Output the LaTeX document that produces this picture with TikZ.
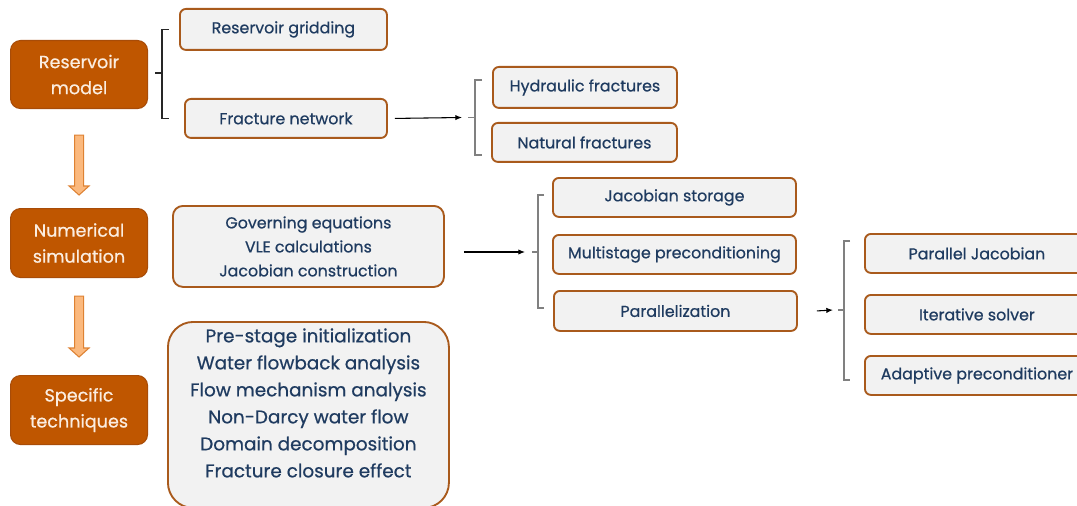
\documentclass[tikz,border=0pt]{standalone}
\usepackage{fontspec}
\setmainfont{Poppins}
\newfontfamily\medfont{Poppins}[FakeBold=0.6]
\usetikzlibrary{calc,arrows.meta}

\definecolor{rust}{HTML}{BF5600}
\definecolor{rustedge}{HTML}{A84C08}
\definecolor{cream}{HTML}{FBEDE0}
\definecolor{boxfill}{HTML}{F2F2F2}
\definecolor{boxedge}{HTML}{A95A1C}
\definecolor{navy}{HTML}{1F3B60}
\definecolor{peach}{HTML}{FBB97E}
\definecolor{peachedge}{HTML}{DE8233}
\definecolor{brackgray}{HTML}{808080}

% hollow downward block arrow: #1 top of the shaft, #2 tip
\newcommand\fatdown[2]{%
  \draw[fatarrow] ($(#1)+(-4.5,0)$) -- ($(#1)+(4.5,0)$) -- ($(#2)+(4.5,-9)$)
    -- ($(#2)+(10,-9)$) -- (#2) -- ($(#2)+(-10,-9)$) -- ($(#2)+(-4.5,-9)$) -- cycle;}

\begin{document}
\begin{tikzpicture}[x=0.75pt,y=-0.75pt,
  mainbox/.style={draw=rustedge, fill=rust, text=cream, line width=0.8pt,
    rounded corners=7.5pt, anchor=north west, inner sep=0pt, align=center,
    font=\medfont\fontsize{13.2}{19.5}\selectfont},
  subbox/.style={draw=boxedge, fill=boxfill, text=navy, line width=1.4pt,
    rounded corners=4.5pt, anchor=north west, inner sep=0pt, align=center,
    font=\medfont\fontsize{11.9}{18}\selectfont},
  bigtext/.style={text=navy, align=center, inner sep=0pt,
    font=\medfont\fontsize{13.8}{20.25}\selectfont},
  brk/.style={draw=brackgray, line width=0.8pt},
  brkdark/.style={draw=black!85, line width=0.8pt},
  conn/.style={draw=black, line width=0.8pt, -{Latex[length=5pt,width=4pt]}},
  fatarrow/.style={fill=peach, draw=peachedge, line width=0.8pt, line join=miter},
]
\clip (0,0) rectangle (1077,506);
\fill[white] (0,0) rectangle (1077,506);

% left column
\node[mainbox, minimum width={137*0.75pt}, minimum height={68*0.75pt}] (rm) at (10,40) {Reservoir\\model};
\node[mainbox, minimum width={137*0.75pt}, minimum height={69*0.75pt}] (ns) at (10,208) {Numerical\\simulation};
\node[mainbox, minimum width={137*0.75pt}, minimum height={69*0.75pt}] (sp) at (10,375) {Specific\\techniques};

\coordinate (d1s) at ($(rm.south)+(0,26)$);
\coordinate (d1e) at ($(ns.north)+(0,-13)$);
\coordinate (d2s) at ($(ns.south)+(0,18)$);
\coordinate (d2e) at ($(sp.north)+(0,-18)$);
\fatdown{d1s}{d1e}
\fatdown{d2s}{d2e}

% reservoir model branch
\node[subbox, minimum width={207*0.75pt}, minimum height={41*0.75pt}] (rg) at (179,8) {Reservoir gridding};
\node[subbox, minimum width={202*0.75pt}, minimum height={39*0.75pt}] (fn) at (184,98) {Fracture network};
\coordinate (k1) at (162,73);
\draw[brkdark] ($(k1 |- rg.west)+(7,0)$) -- (k1 |- rg.west) -- (k1 |- fn.west) -- ($(k1 |- fn.west)+(7,0)$);
\draw[brkdark] (k1) -- ++(-7,0);

\node[subbox, minimum width={184*0.75pt}, minimum height={41*0.75pt}] (hf) at (492,66) {Hydraulic fractures};
\node[subbox, minimum width={185*0.75pt}, minimum height={39*0.75pt}] (nf) at (491,122) {Natural fractures};
\coordinate (k2) at (475,117.5);
\draw[brk] (482,80) -- (475,80) -- (475,155) -- (482,155);
\draw[brk] (k2) -- ++(-7,0);
\draw[conn] ($(fn.east)+(7,0)$) -- ($(k2)+(-13,0)$);

% numerical simulation branch
\node[subbox, rounded corners=7.5pt, minimum width={271*0.75pt}, minimum height={81*0.75pt}] (ge) at (172,205)
  {Governing equations\\VLE calculations\\Jacobian construction};
\node[subbox, minimum width={243*0.75pt}, minimum height={39*0.75pt}] (js) at (552,177) {Jacobian storage};
\node[subbox, minimum width={243*0.75pt}, minimum height={39*0.75pt}] (mp) at (552,234) {Multistage preconditioning};
\node[subbox, minimum width={243*0.75pt}, minimum height={40*0.75pt}] (pa) at (553,290) {Parallelization};
\coordinate (k3) at (538,252);
\draw[brk] (544,195) -- (538,195) -- (538,308) -- (544,308);
\draw[brk] (k3) -- ++(-6,0);
\draw[conn] ($(ge.east |- k3)+(19,0)$) -- ($(k3)+(-13,0)$);

\node[subbox, minimum width={224*0.75pt}, minimum height={39*0.75pt}] (pj) at (864,233) {Parallel Jacobian};
\node[subbox, minimum width={224*0.75pt}, minimum height={39*0.75pt}] (is) at (864,294) {Iterative solver};
\node[subbox, minimum width={224*0.75pt}, minimum height={39*0.75pt}] (ap) at (864,355) {Adaptive preconditioner};
\coordinate (k4) at (844,310);
\draw[brk] (850,241) -- (844,241) -- (844,380) -- (850,380);
\draw[brk] (k4) -- ++(-6,0);
\draw[conn] ($(pa.east)+(19,0)$) -- ($(k4)+(-11,0)$);

% specific techniques
\node[subbox, rounded corners=19pt, minimum width={281*0.75pt}, minimum height={186*0.75pt}] (big) at (167,321) {};
\node[bigtext] (bigt) at ($(big.center)+(0,-12)$)
  {Pre-stage initialization\\Water flowback analysis\\Flow mechanism analysis\\Non-Darcy water flow\\Domain decomposition\\Fracture closure effect};
\end{tikzpicture}
\end{document}
